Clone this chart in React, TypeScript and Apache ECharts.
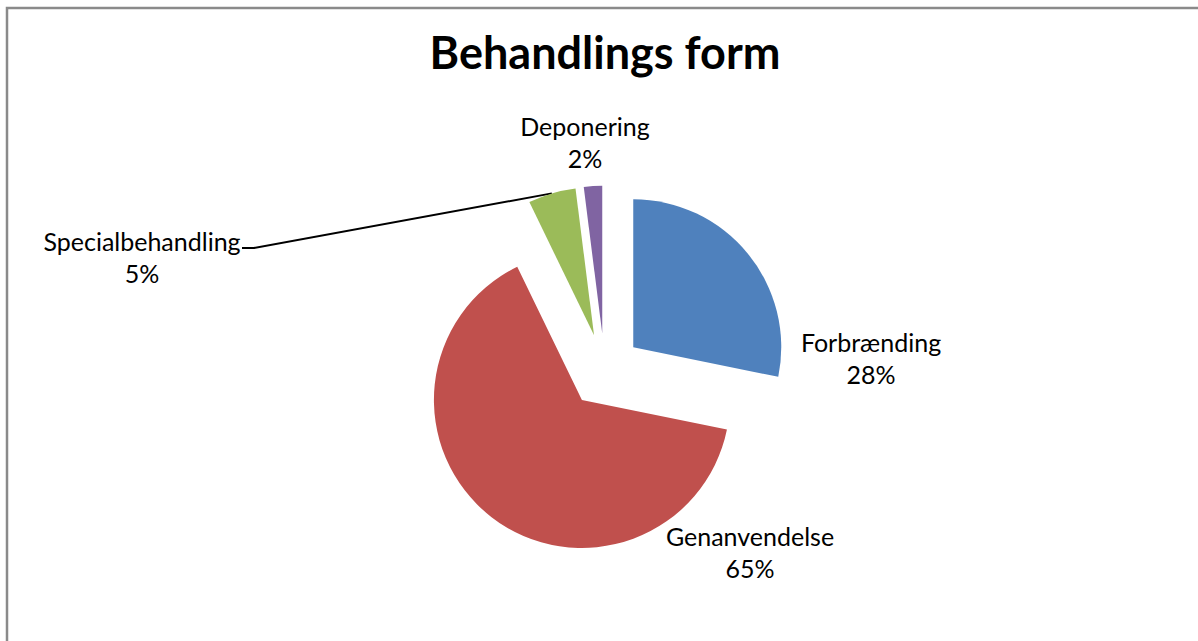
import React, { useEffect, useRef } from "react";
import * as echarts from "echarts";

const title = "Behandlings form";
const categories = ["Forbrænding", "Genanvendelse", "Specialbehandling", "Deponering"];
const values = [28.2, 64.6, 5.2, 2.0];
const colors = ["#4F81BD", "#C0504D", "#9BBB59", "#8064A2"];

const W = 1198;
const H = 641;
const CX = 604.6;
const CY = 370.7;
const R = 148;
const OFFSET = 37;
const LABEL_POS = [
  [871, 358],
  [750, 552],
  [142, 257],
  [585, 142],
];
const LEADER_INDEX = 2;
const LEADER_END = [
  [254, 248],
  [242, 248],
];
const FONT = "Lato, 'Open Sans', sans-serif";

export default function App() {
  const ref = useRef<HTMLDivElement>(null);
  useEffect(() => {
    if (!ref.current) return;
    const chart = echarts.init(ref.current, null, { renderer: "svg" });
    const total = values.reduce((a, b) => a + b, 0);
    let cum = 0;
    const mids: number[] = values.map((v) => {
      const m = cum + v / 2;
      cum += v;
      return (m / total) * Math.PI * 2;
    });
    const graphics: any[] = [
      {
        type: "rect",
        shape: { x: 7, y: 8, width: 1400, height: 1000 },
        style: { fill: "none", stroke: "#8a8a8a", lineWidth: 2.5 },
        silent: true,
      },
      {
        type: "text",
        x: 605,
        y: 52,
        style: {
          text: title,
          font: `bold 45px ${FONT}`,
          fill: "#000",
          textAlign: "center",
          textVerticalAlign: "middle",
        },
      },
    ];
    categories.forEach((name, i) => {
      const pct = Math.round((values[i] / total) * 100);
      graphics.push({
        type: "text",
        x: LABEL_POS[i][0],
        y: LABEL_POS[i][1],
        style: {
          text: `${name}\n${pct}%`,
          font: `25px ${FONT}`,
          lineHeight: 32,
          fill: "#000",
          textAlign: "center",
          textVerticalAlign: "middle",
        },
      });
    });
    const a = mids[LEADER_INDEX];
    const start = [CX + (R + OFFSET) * Math.sin(a), CY - (R + OFFSET) * Math.cos(a)];
    graphics.push({
      type: "polyline",
      shape: { points: [start, ...LEADER_END] },
      style: { stroke: "#000", lineWidth: 2, fill: "none" },
      silent: true,
    });

    chart.setOption({
      animation: false,
      backgroundColor: "#fff",
      series: [
        {
          type: "pie",
          center: [CX, CY],
          radius: R,
          startAngle: 90,
          clockwise: true,
          selectedMode: "multiple",
          selectedOffset: OFFSET,
          label: { show: false },
          labelLine: { show: false },
          emphasis: { disabled: true },
          itemStyle: { borderWidth: 0 },
          data: categories.map((name, i) => ({
            name,
            value: values[i],
            selected: true,
            itemStyle: { color: colors[i] },
          })),
        },
      ],
      graphic: graphics,
    });
    return () => chart.dispose();
  }, []);
  return (
    <div
      ref={ref}
      style={{ position: "fixed", left: 0, top: 0, width: W, height: H }}
    />
  );
}
